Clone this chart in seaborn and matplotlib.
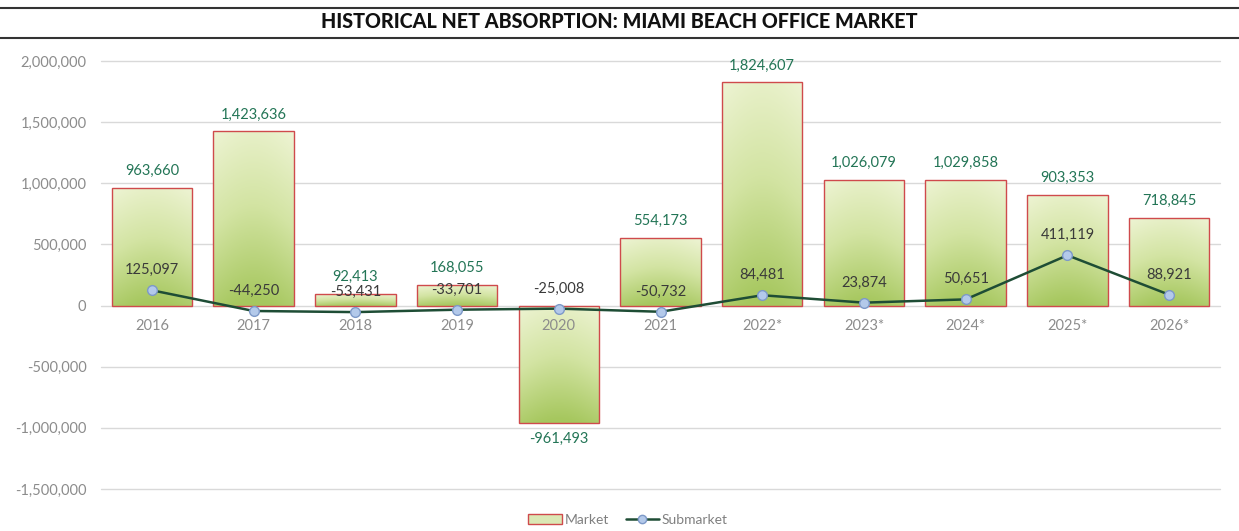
import numpy as np
import pandas as pd
import matplotlib
matplotlib.use("Agg")
import matplotlib.pyplot as plt
from matplotlib.lines import Line2D
from matplotlib.colors import LinearSegmentedColormap
from matplotlib.patches import Rectangle
import seaborn as sns

years = ["2016", "2017", "2018", "2019", "2020", "2021", "2022*", "2023*", "2024*", "2025*", "2026*"]
market = [963660, 1423636, 92413, 168055, -961493, 554173, 1824607, 1026079, 1029858, 903353, 718845]
submarket = [125097, -44250, -53431, -33701, -25008, -50732, 84481, 23874, 50651, 411119, 88921]
yticks = [-1500000, -1000000, -500000, 0, 500000, 1000000, 1500000, 2000000]

sns.set_theme(style="white")
plt.rcParams['font.family'] = ['Lato', 'DejaVu Sans']

fig = plt.figure(figsize=(12.39, 5.31), dpi=100)
ax = fig.add_axes([101/1239, 1 - 489/531, (1220 - 101)/1239, (489 - 61)/531])

df = pd.DataFrame({"year": years, "market": market})
sns.barplot(data=df, x="year", y="market", ax=ax, width=0.79,
            facecolor=(1, 1, 1, 0), edgecolor="#cf4a4c", linewidth=1.0, zorder=3)

cmap = LinearSegmentedColormap.from_list("g", ["#eef4d4", "#d3e4a3", "#a6c75e"])
grad = np.linspace(0, 1, 256).reshape(-1, 1)
horiz = 1 - 0.25 * np.cos(np.linspace(-np.pi / 2, np.pi / 2, 64))
img = np.clip(grad * 0.9 + (1 - horiz[None, :]) * 0.5, 0, 1)

for p in list(ax.patches):
    x0, y0 = p.get_x(), p.get_y()
    w, h = p.get_width(), p.get_height()
    ylo, yhi = min(y0, y0 + h), max(y0, y0 + h)
    im = ax.imshow(img, cmap=cmap, vmin=0, vmax=1, aspect="auto",
                   extent=[x0, x0 + w, ylo, yhi], origin="upper", zorder=2,
                   interpolation="bilinear")
    im.set_clip_path(p)

ax.set_xlim(-0.5, len(years) - 0.5)
ax.set_ylim(-1500000, 2000000)
ax.set_yticks(yticks)
ax.set_yticklabels([f"{v:,}" for v in yticks], color="#8c8c8c", fontsize=10.5)
ax.tick_params(axis="y", length=0, pad=10.5)
ax.set_xticks([])
ax.set_xlabel("")
ax.set_ylabel("")
ax.grid(axis="y", color="#d9d9d9", linewidth=1.0, zorder=0)
for gl in ax.get_ygridlines():
    gl.set_clip_on(False)
ax.set_axisbelow(True)
for s in ax.spines.values():
    s.set_visible(False)

xs = np.arange(len(years))
sns.lineplot(x=xs, y=submarket, ax=ax, color="#1e4d35", linewidth=1.8, zorder=5,
             marker="o", markersize=7, markerfacecolor="#b3c9ea",
             markeredgecolor="#7d99c8", markeredgewidth=1.0, legend=False)

for i, yl in enumerate(years):
    ax.annotate(yl, (i, 0), xytext=(0, -20), textcoords="offset pixels",
                ha="center", va="center", fontsize=10.5, color="#8c8c8c", zorder=6)

for i, v in enumerate(market):
    off = 17 if v >= 0 else -16
    ax.annotate(f"{v:,}", (i, v), xytext=(0, off), textcoords="offset pixels",
                ha="center", va="center", fontsize=10.5, color="#237556", zorder=7)

for i, v in enumerate(submarket):
    ax.annotate(f"{v:,}", (i, v), xytext=(0, 20), textcoords="offset pixels",
                ha="center", va="center", fontsize=10.5, color="#3a3a3a", zorder=7)

fig.add_artist(Line2D([0, 1], [1 - 8/531, 1 - 8/531], color="#333333", linewidth=1.5))
fig.add_artist(Line2D([0, 1], [1 - 38/531, 1 - 38/531], color="#333333", linewidth=1.5))
fig.text(0.5, 1 - 22/531, "HISTORICAL NET ABSORPTION: MIAMI BEACH OFFICE MARKET",
         ha="center", va="center", fontsize=14.2, fontweight="black",
         family=["Lato", "DejaVu Sans"], color="#111111")

h_bar = Rectangle((0, 0), 1, 1, facecolor="#dbe8b5", edgecolor="#cf4a4c", linewidth=1.0)
h_line = Line2D([0], [0], color="#1e4d35", linewidth=1.8, marker="o", markersize=6,
                markerfacecolor="#b3c9ea", markeredgecolor="#7d99c8")
leg = fig.legend([h_bar, h_line], ["Market", "Submarket"], loc="center",
                 bbox_to_anchor=(628/1239, 1 - 520/531), ncol=2, frameon=False,
                 fontsize=10, handlelength=2.4, handletextpad=0.2, columnspacing=1.2)
for t in leg.get_texts():
    t.set_color("#808080")

fig.savefig("out.png", dpi=100)
